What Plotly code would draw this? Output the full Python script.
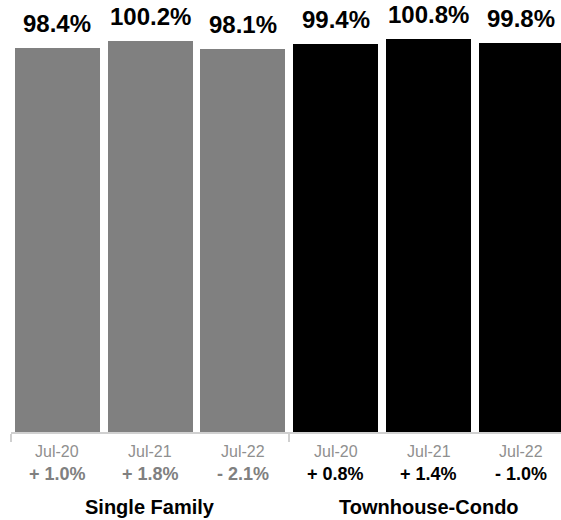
import plotly.graph_objects as go

years = ["Jul-20", "Jul-21", "Jul-22"]
sf_values = [98.4, 100.2, 98.1]
tc_values = [99.4, 100.8, 99.8]
sf_changes = ["+ 1.0%", "+ 1.8%", "- 2.1%"]
tc_changes = ["+ 0.8%", "+ 1.4%", "- 1.0%"]
groups = ["Single Family", "Townhouse-Condo"]
group_colors = ["#808080", "#000000"]
change_colors = ["#808080", "#000000"]

FONT = "Liberation Sans, Arial, Helvetica, sans-serif"

fig = go.Figure()
annotations = []
series = [sf_values, tc_values]
changes = [sf_changes, tc_changes]
for g, (vals, chg) in enumerate(zip(series, changes)):
    xs = [g * len(years) + i for i in range(len(years))]
    fig.add_trace(go.Bar(
        x=xs, y=vals, width=0.916,
        marker=dict(color=group_colors[g], line=dict(width=0)),
        showlegend=False, hoverinfo="skip",
    ))
    for x, v, yr, c in zip(xs, vals, years, chg):
        annotations.append(dict(
            x=x, y=v, xref="x", yref="y", text=f"<b>{v:.1f}%</b>",
            showarrow=False, yanchor="bottom", yshift=9,
            font=dict(family=FONT, size=24, color="#000000"),
        ))
        annotations.append(dict(
            x=x, y=0, xref="x", yref="y", text=yr,
            showarrow=False, yanchor="top", yshift=-9,
            font=dict(family=FONT, size=16, color="#8f8f8f"),
        ))
        annotations.append(dict(
            x=x, y=0, xref="x", yref="y", text=f"<b>{c}</b>",
            showarrow=False, yanchor="top", yshift=-30,
            font=dict(family=FONT, size=18, color=change_colors[g]),
        ))
    annotations.append(dict(
        x=xs[len(xs) // 2], y=0, xref="x", yref="y", text=f"<b>{groups[g]}</b>",
        showarrow=False, yanchor="top", yshift=-62,
        font=dict(family=FONT, size=20, color="#000000"),
    ))

fig.update_layout(
    width=561, height=520,
    margin=dict(l=11, r=0, t=3, b=87.5, pad=0),
    paper_bgcolor="white", plot_bgcolor="white",
    annotations=annotations,
    xaxis=dict(
        range=[-0.5, 5.427],
        tickvals=[-0.5 + k * len(years) for k in range(len(groups) + 1)],
        showticklabels=False, ticks="outside", ticklen=8, tickwidth=2,
        tickcolor="#d0d0d0", showline=True, linecolor="#d0d0d0", linewidth=2,
        showgrid=False, zeroline=False, fixedrange=True,
    ),
    yaxis=dict(range=[0, 110], visible=False, showgrid=False, zeroline=False),
    bargap=0,
)

fig.write_html(
    "out.html",
    config={"displayModeBar": False},
    post_script="document.body.style.margin='0';document.body.style.overflow='hidden';",
)
